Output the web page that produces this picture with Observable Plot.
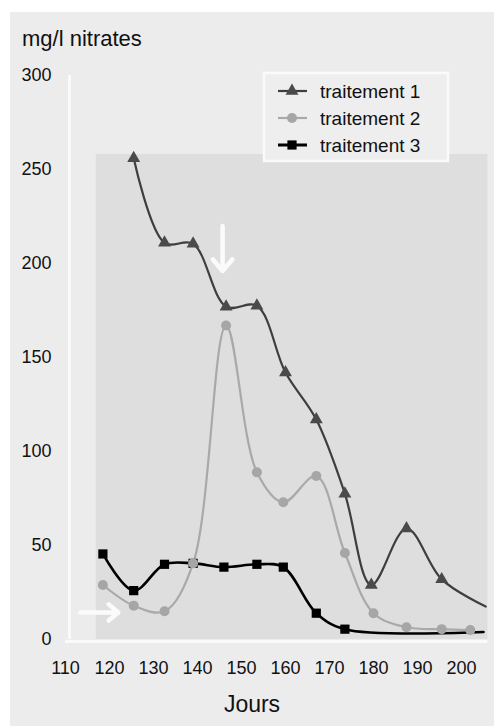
<!DOCTYPE html>
<html><head><meta charset="utf-8">
<script src="https://cdn.jsdelivr.net/npm/d3@7"></script>
<script src="https://cdn.jsdelivr.net/npm/@observablehq/plot@0.6"></script>
<style>
html,body{margin:0;padding:0;background:#fff;}
#wrap{position:relative;width:494px;height:726px;overflow:hidden;font-family:"Liberation Sans",Arial,sans-serif;color:#111;}
#bg{position:absolute;left:10px;top:12px;right:0;bottom:0;background:#ececec;}
#chart{position:absolute;left:0;top:0;}
#title{position:absolute;left:22px;top:28px;font-size:22px;line-height:22px;white-space:nowrap;}
#xlabel{position:absolute;left:152px;width:200px;top:693px;font-size:23px;line-height:23px;text-align:center;}
#legend{position:absolute;left:0;top:0;}
</style></head>
<body>
<div id="wrap">
  <div id="bg"></div>
  <div id="chart"></div>
  <div id="title">mg/l nitrates</div>
  <div id="xlabel">Jours</div>
  <svg id="legend" width="494" height="200"></svg>
</div>
<script>
// ---- data ----
const seriesNames = ["traitement 1", "traitement 2", "traitement 3"];

const t1Days = [125.5, 132.5, 139, 146.5, 153.5, 160, 167, 173.5, 179.5, 187.5, 195.5];
const t1Vals = [256, 211, 210.5, 177, 177.5, 142, 117, 77.5, 29, 59, 32];
const t1TailDay = [205.5];
const t1TailVal = [17.5];

const t2Days = [118.5, 125.5, 132.5, 139, 146.5, 153.5, 159.5, 167, 173.5, 180, 187.5, 195.5, 202];
const t2Vals = [29, 18, 15, 40.5, 167, 89, 73, 87, 46, 14, 6.5, 5.5, 5];

const t3Days = [118.5, 125.5, 132.5, 139, 146, 153.5, 159.5, 167, 173.5];
const t3Vals = [45.5, 26, 40, 40.5, 38.5, 40, 38.5, 14, 5.5];
const t3TailDay = [205];
const t3TailVal = [4];

const xTicks = [110, 120, 130, 140, 150, 160, 170, 180, 190, 200];
const yTicks = [0, 50, 100, 150, 200, 250, 300];

// annotation arrows (white) in data units
const arrows = [
  {x1: 145.7, y1: 220, x2: 145.7, y2: 196},
  {x1: 113.4, y1: 14.4, x2: 122, y2: 14.4}
];
// shaded panel behind the curves, in data units
const panel = [{x1: 117, x2: 206, y1: 0, y2: 258}];
const axisLineX = [110.9];

// ---- styles ----
const colors = ["#3e3e3e", "#a9a9a9", "#000000"];
const dotFill = ["#4a4a4a", "#a6a6a6", "#000000"];

const toRows = (days, vals) => days.map((d, i) => ({day: d, value: vals[i]}));
const t1 = toRows(t1Days, t1Vals);
const t2 = toRows(t2Days, t2Vals);
const t3 = toRows(t3Days, t3Vals);
const t1Line = t1.concat(toRows(t1TailDay, t1TailVal));
const t3Line = t3.concat(toRows(t3TailDay, t3TailVal));

const chart = Plot.plot({
  width: 494,
  height: 726,
  marginTop: 75,
  marginBottom: 87,
  marginLeft: 65,
  marginRight: 6.6,
  x: {domain: [110, 206]},
  y: {domain: [0, 300]},
  style: {background: "transparent", fontFamily: "'Liberation Sans', Arial, sans-serif", fontSize: "18px", color: "#111"},
  marks: [
    Plot.rect(panel, {x1: "x1", x2: "x2", y1: "y1", y2: "y2", fill: "#dedede"}),
    Plot.ruleX(axisLineX, {stroke: "#fafafa", strokeWidth: 3}),
    Plot.ruleY([0], {stroke: "#fafafa", strokeWidth: 3, dy: 2}),
    Plot.arrow(arrows, {x1: "x1", y1: "y1", x2: "x2", y2: "y2", stroke: "#fbfbfb", strokeWidth: 4.5, headLength: 6, headAngle: 80}),
    Plot.line(t3Line, {x: "day", y: "value", curve: "catmull-rom", stroke: colors[2], strokeWidth: 2.6}),
    Plot.line(t1Line, {x: "day", y: "value", curve: "catmull-rom", stroke: colors[0], strokeWidth: 2.2}),
    Plot.line(t2, {x: "day", y: "value", curve: "catmull-rom", stroke: colors[1], strokeWidth: 2.2}),
    Plot.dot(t3, {x: "day", y: "value", symbol: "square", r: 5.2, fill: dotFill[2], stroke: "none"}),
    Plot.dot(t1, {x: "day", y: "value", symbol: "triangle", r: 4.8, fill: dotFill[0], stroke: "none"}),
    Plot.dot(t2, {x: "day", y: "value", symbol: "circle", r: 5, fill: dotFill[1], stroke: "none"}),
    Plot.axisY(yTicks, {tickSize: 0, tickPadding: 14, label: null, fontSize: 18}),
    Plot.axisX(xTicks, {tickSize: 0, tickPadding: 22, label: null, fontSize: 18})
  ]
});
document.getElementById("chart").appendChild(chart);

// ---- legend ----
const lg = d3.select("#legend");
lg.append("rect").attr("x", 264).attr("y", 73).attr("width", 184).attr("height", 88)
  .attr("fill", "#eeeeee").attr("stroke", "#fafafa").attr("stroke-width", 2.5);
const rowY = [91, 118, 145];
const symGen = [d3.symbolTriangle, d3.symbolCircle, d3.symbolSquare];
const symSize = [72, 78, 85];
seriesNames.forEach((name, i) => {
  const g = lg.append("g").attr("transform", `translate(0,${rowY[i]})`);
  g.append("line").attr("x1", 278).attr("x2", 307).attr("y1", 0).attr("y2", 0)
    .attr("stroke", colors[i]).attr("stroke-width", i === 2 ? 3 : 2.2);
  g.append("path").attr("d", d3.symbol(symGen[i], symSize[i])()).attr("transform", "translate(292,0)")
    .attr("fill", dotFill[i]);
  g.append("text").attr("x", 320).attr("y", 6.5).text(name)
    .attr("font-family", "'Liberation Sans', Arial, sans-serif").attr("font-size", 19).attr("fill", "#111");
});
</script>
</body></html>
